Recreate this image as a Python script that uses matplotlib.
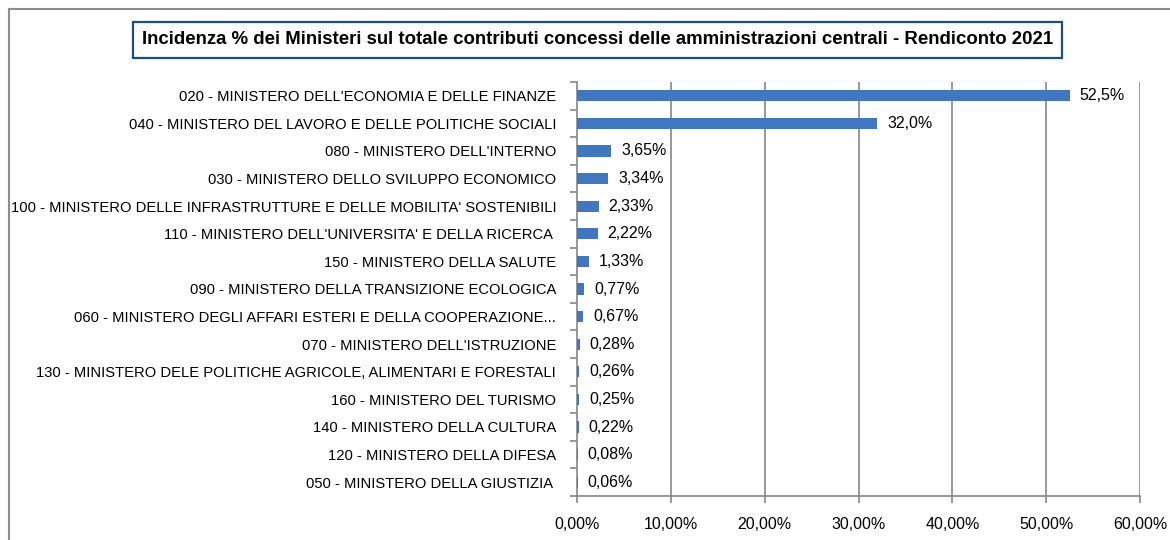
import matplotlib
matplotlib.use("Agg")
import matplotlib.pyplot as plt
from matplotlib.lines import Line2D
from matplotlib.ticker import FixedLocator, FuncFormatter

plt.rcParams['font.family'] = ['Liberation Sans', 'DejaVu Sans']

title = "Incidenza % dei Ministeri sul totale contributi concessi delle amministrazioni centrali - Rendiconto 2021"

categories = [
    "020 - MINISTERO DELL'ECONOMIA E DELLE FINANZE",
    "040 - MINISTERO DEL LAVORO E DELLE POLITICHE SOCIALI",
    "080 - MINISTERO DELL'INTERNO",
    "030 - MINISTERO DELLO SVILUPPO ECONOMICO",
    "100 - MINISTERO DELLE INFRASTRUTTURE E DELLE MOBILITA' SOSTENIBILI",
    "110 - MINISTERO DELL'UNIVERSITA' E DELLA RICERCA ",
    "150 - MINISTERO DELLA SALUTE",
    "090 - MINISTERO DELLA TRANSIZIONE ECOLOGICA",
    "060 - MINISTERO DEGLI AFFARI ESTERI E DELLA COOPERAZIONE...",
    "070 - MINISTERO DELL'ISTRUZIONE",
    "130 - MINISTERO DELE POLITICHE AGRICOLE, ALIMENTARI E FORESTALI",
    "160 - MINISTERO DEL TURISMO",
    "140 - MINISTERO DELLA CULTURA",
    "120 - MINISTERO DELLA DIFESA",
    "050 - MINISTERO DELLA GIUSTIZIA ",
]
values = [52.5, 32.0, 3.65, 3.34, 2.33, 2.22, 1.33, 0.77, 0.67, 0.28, 0.26, 0.25, 0.22, 0.08, 0.06]
value_labels = ["52,5%", "32,0%", "3,65%", "3,34%", "2,33%", "2,22%", "1,33%", "0,77%",
                "0,67%", "0,28%", "0,26%", "0,25%", "0,22%", "0,08%", "0,06%"]
x_ticks = [0, 10, 20, 30, 40, 50, 60]

W, H = 1170, 540
fig = plt.figure(figsize=(W / 100, H / 100), dpi=100)
fig.patch.set_facecolor('white')
# outer chart-area border (top and left edges visible)
bx, by = 8.5 / W, 1 - 9 / H
fig.add_artist(Line2D([bx, 1.0], [by, by], transform=fig.transFigure, color='#8C8C8C', linewidth=1.5))
fig.add_artist(Line2D([bx, bx], [0.0, by], transform=fig.transFigure, color='#8C8C8C', linewidth=1.5))

ax = fig.add_axes([577 / W, 1 - 496 / H, (1140 - 577) / W, (496 - 82) / H])
ypos = list(range(len(categories)))
ax.barh(ypos, values, height=0.4, color='#4177BE', zorder=3)
ax.set_ylim(len(categories) - 0.5, -0.5)
ax.set_xlim(0, 60)

grid_c = '#868686'
ax.xaxis.set_major_locator(FixedLocator(x_ticks))
ax.xaxis.set_major_formatter(FuncFormatter(lambda v, p: f"{v:.2f}%".replace('.', ',')))
for t in x_ticks[1:]:
    ax.axvline(t, color=grid_c, linewidth=1.2, zorder=1)

ax.set_yticks(ypos)
ax.set_yticklabels(categories)
ax.yaxis.set_minor_locator(FixedLocator([i - 0.5 for i in range(len(categories) + 1)]))
ax.tick_params(axis='y', which='major', length=0, pad=15, labelsize=10.6)
ax.tick_params(axis='y', which='minor', length=5, width=1.2, color=grid_c, direction='out')
ax.tick_params(axis='x', which='major', length=5, width=1.2, color=grid_c, direction='out', pad=10, labelsize=11.5)

for s in ['top', 'right']:
    ax.spines[s].set_visible(False)
for s in ['left', 'bottom']:
    ax.spines[s].set_color(grid_c)
    ax.spines[s].set_linewidth(1.2)

for y, v, lab in zip(ypos, values, value_labels):
    ax.annotate(lab, (v, y), xytext=(7, 0), textcoords='offset points', va='center', ha='left',
                fontsize=11.5, zorder=4)

fig.text(597.5 / W, 1 - 40 / H, title, ha='center', va='center', fontsize=13.4, fontweight='bold',
         color='black',
         bbox=dict(boxstyle='square,pad=0.5', facecolor='white', edgecolor='#1F4E79', linewidth=1.6))

fig.savefig('out.png', dpi=100, facecolor='white')
